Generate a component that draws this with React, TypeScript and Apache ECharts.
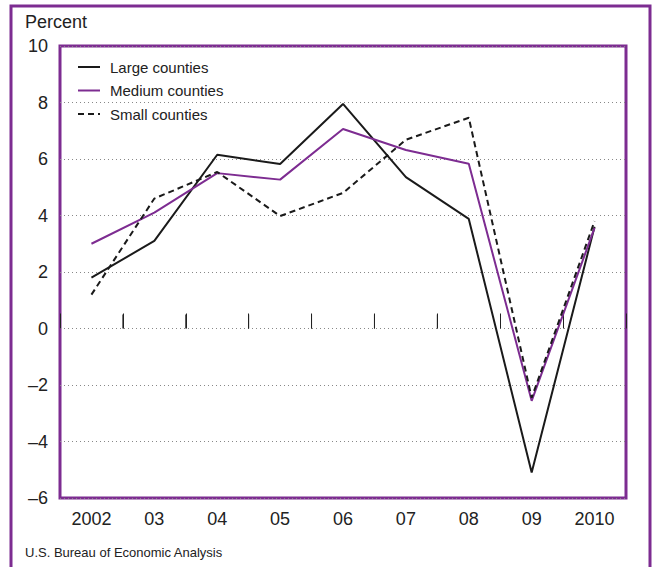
import React, { useEffect, useRef } from "react";
import * as echarts from "echarts";

const categories = ["2002", "03", "04", "05", "06", "07", "08", "09", "2010"];
const largeCounties = [1.8, 3.1, 6.15, 5.82, 7.95, 5.36, 3.88, -5.1, 3.6];
const mediumCounties = [3.0, 4.1, 5.5, 5.27, 7.06, 6.32, 5.83, -2.56, 3.56];
const smallCounties = [1.2, 4.6, 5.54, 3.98, 4.8, 6.68, 7.46, -2.45, 3.8];
const seriesNames = ["Large counties", "Medium counties", "Small counties"];
const zeroLineTickBoundaries = [1, 2, 3, 4, 5, 6];
const yTicks = { min: -6, max: 10, interval: 2 };
const yAxisTitle = "Percent";
const sourceNote = "U.S. Bureau of Economic Analysis";

const PURPLE = "#7d2c91";
const INK = "#1a1a1a";
const FONT = "Liberation Sans, Arial, Helvetica, sans-serif";

export default function App() {
  const ref = useRef<HTMLDivElement>(null);
  useEffect(() => {
    const chart = echarts.init(ref.current!, null, { renderer: "svg" });
    const gridLeft = 60;
    const gridTop = 46;
    const gridW = 566;
    const gridH = 452;

    const legendStyles = [
      { stroke: INK, lineDash: null as any },
      { stroke: PURPLE, lineDash: null as any },
      { stroke: INK, lineDash: [6, 4] },
    ];
    const legendY = [67, 90.5, 114];
    const legendGraphics: any[] = [];
    seriesNames.forEach((name, i) => {
      legendGraphics.push({
        type: "line",
        shape: { x1: 78, y1: legendY[i], x2: 100, y2: legendY[i] },
        style: {
          stroke: legendStyles[i].stroke,
          lineWidth: 2,
          lineDash: legendStyles[i].lineDash,
        },
        silent: true,
      });
      legendGraphics.push({
        type: "text",
        x: 110,
        y: legendY[i],
        style: {
          text: name,
          fontSize: 15,
          fill: "#222",
          fontFamily: FONT,
          verticalAlign: "middle",
          align: "left",
        },
        silent: true,
      });
    });

    chart.setOption({
      animation: false,
      backgroundColor: "#ffffff",
      textStyle: { fontFamily: FONT },
      grid: {
        left: gridLeft,
        top: gridTop,
        width: gridW,
        height: gridH,
        show: true,
        borderColor: PURPLE,
        borderWidth: 3,
        backgroundColor: "transparent",
      },
      graphic: [
        {
          type: "rect",
          shape: { x: 11, y: 6, width: 639, height: 600 },
          style: { fill: "none", stroke: PURPLE, lineWidth: 3 },
          silent: true,
        },
        {
          type: "text",
          x: 25,
          y: 22,
          style: {
            text: yAxisTitle,
            fontSize: 18,
            fill: "#222",
            fontFamily: FONT,
            verticalAlign: "middle",
          },
        },
        {
          type: "text",
          x: 25,
          y: 552,
          style: {
            text: sourceNote,
            fontSize: 13,
            fill: "#222",
            fontFamily: FONT,
            verticalAlign: "middle",
          },
        },
        ...legendGraphics,
      ],
      xAxis: {
        type: "category",
        data: categories,
        boundaryGap: true,
        position: "bottom",
        axisLine: { show: false },
        axisTick: {
          show: true,
          inside: true,
          length: 15,
          interval: 0,
          lineStyle: { color: "#222", width: 1 },
        },
        axisLabel: {
          interval: 0,
          fontSize: 18,
          color: "#222",
          margin: 12,
          fontFamily: FONT,
        },
        splitLine: { show: false },
      },
      yAxis: {
        type: "value",
        min: yTicks.min,
        max: yTicks.max,
        interval: yTicks.interval,
        axisLine: { show: false },
        axisTick: { show: false },
        axisLabel: {
          fontSize: 18,
          color: "#222",
          margin: 12,
          fontFamily: FONT,
          formatter: (v: number) => (v < 0 ? "\u2013" + Math.abs(v) : String(v)),
        },
        splitLine: {
          show: true,
          lineStyle: { color: "#888", type: [1, 3], width: 1 },
        },
      },
      series: [
        {
          name: "zero-line ticks",
          type: "custom",
          data: zeroLineTickBoundaries.map((b) => [b, 0]),
          encode: { x: 0, y: 1 },
          silent: true,
          z: 2,
          renderItem: (params: any, api: any) => {
            const idx = api.value(0);
            const p = api.coord([idx, 0]);
            const band = api.size([1, 0])[0];
            const x = p[0] - band / 2;
            return {
              type: "line",
              shape: { x1: x, y1: p[1], x2: x, y2: p[1] - 14 },
              style: { stroke: "#222", lineWidth: 1 },
            };
          },
        },
        {
          name: seriesNames[0],
          type: "line",
          data: largeCounties,
          symbol: "none",
          lineStyle: { color: INK, width: 2 },
          itemStyle: { color: INK },
          z: 3,
        },
        {
          name: seriesNames[1],
          type: "line",
          data: mediumCounties,
          symbol: "none",
          lineStyle: { color: PURPLE, width: 2 },
          itemStyle: { color: PURPLE },
          z: 4,
        },
        {
          name: seriesNames[2],
          type: "line",
          data: smallCounties,
          symbol: "none",
          lineStyle: { color: INK, width: 2, type: [6, 4] },
          itemStyle: { color: INK },
          z: 5,
        },
      ],
    });
    return () => chart.dispose();
  }, []);
  return (
    <div
      ref={ref}
      style={{ position: "absolute", left: 0, top: 0, width: 652, height: 567 }}
    />
  );
}
